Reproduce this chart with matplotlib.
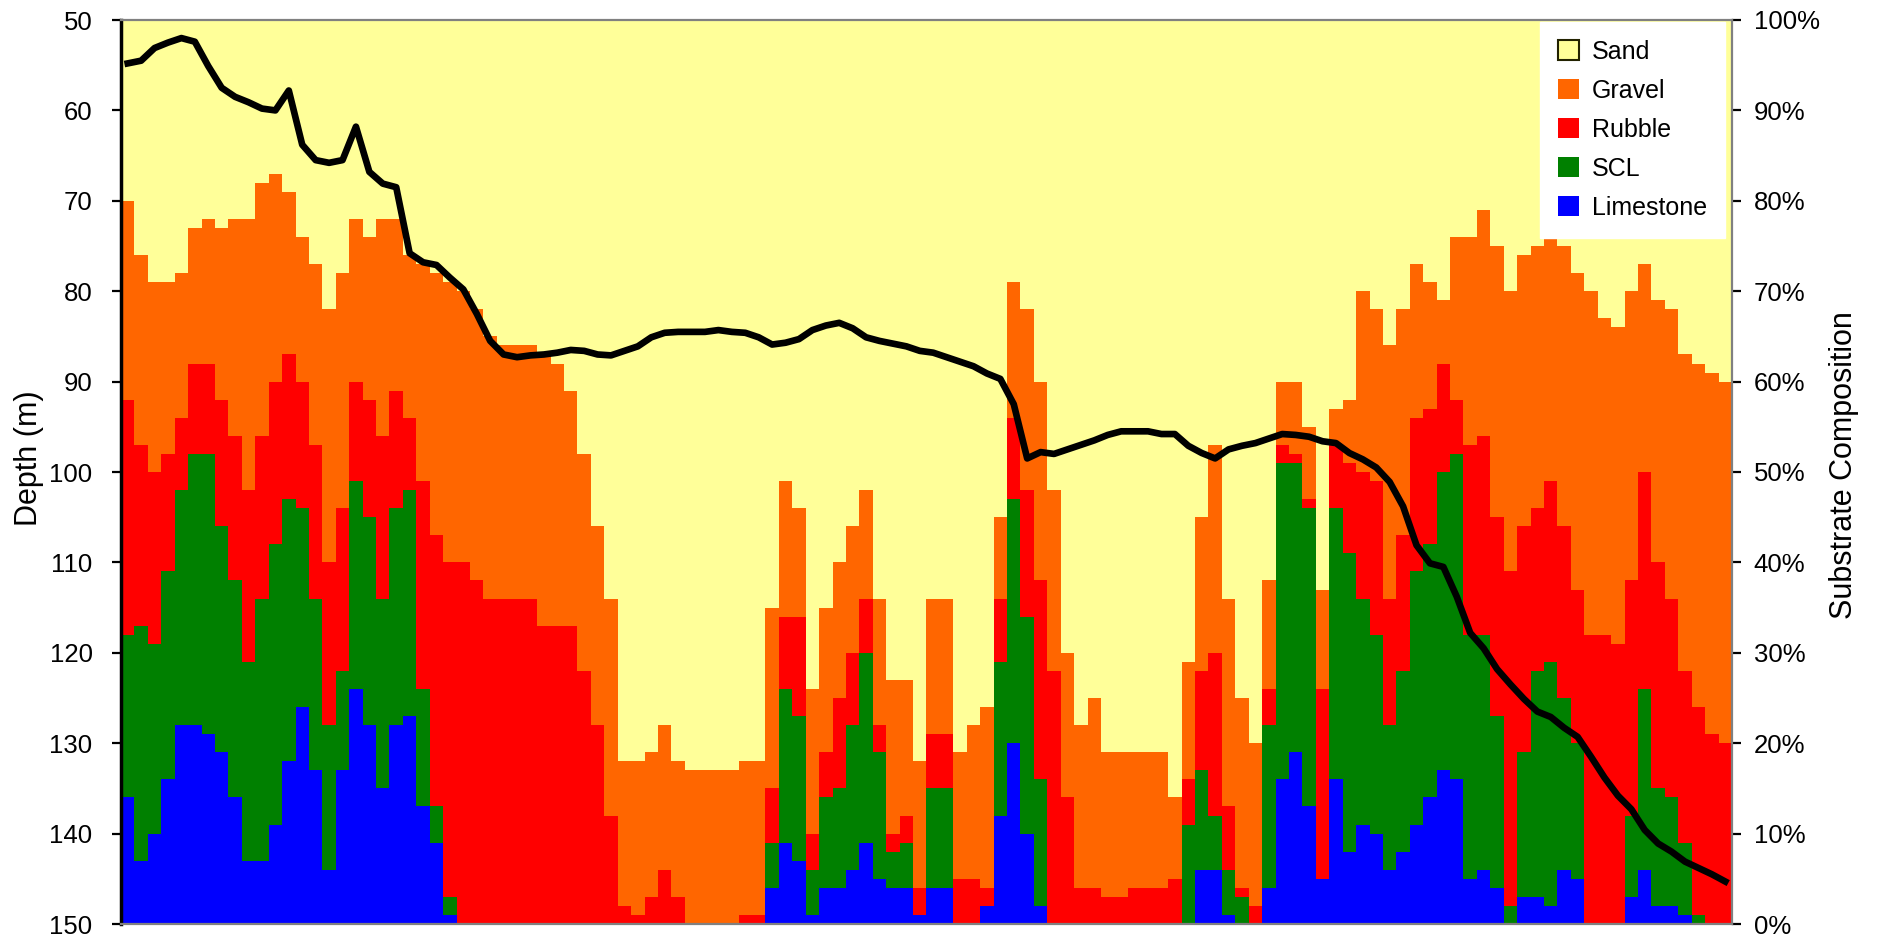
import matplotlib
matplotlib.use("Agg")
import matplotlib.pyplot as plt
import numpy as np
from matplotlib.patches import Patch
from matplotlib.ticker import MultipleLocator, FuncFormatter

# cumulative tops of each layer (% of substrate), one value per bar
limestone_top = [
    14, 7, 10, 16, 22, 22, 21, 19, 14, 7,
    7, 11, 18, 24, 17, 6, 17, 26, 22, 15,
    22, 23, 13, 9, 1, 0, 0, 0, 0, 0,
    0, 0, 0, 0, 0, 0, 0, 0, 0, 0,
    0, 0, 0, 0, 0, 0, 0, 0, 4, 9,
    7, 1, 4, 4, 6, 9, 5, 4, 4, 1,
    4, 4, 0, 0, 2, 12, 20, 10, 2, 0,
    0, 0, 0, 0, 0, 0, 0, 0, 0, 0,
    6, 6, 1, 0, 0, 4, 16, 19, 13, 5,
    16, 8, 11, 10, 6, 8, 11, 14, 17, 16,
    5, 6, 4, 0, 3, 3, 2, 6, 5, 0,
    0, 0, 3, 6, 2, 2, 1, 0, 0, 0,
]
scl_top = [
    32, 33, 31, 39, 48, 52, 52, 44, 38, 29,
    36, 42, 47, 46, 36, 22, 28, 49, 45, 36,
    46, 48, 26, 13, 3, 0, 0, 0, 0, 0,
    0, 0, 0, 0, 0, 0, 0, 0, 0, 0,
    0, 0, 0, 0, 0, 0, 0, 0, 9, 26,
    23, 6, 14, 15, 22, 30, 19, 8, 9, 1,
    15, 15, 0, 0, 2, 29, 47, 34, 16, 0,
    0, 0, 0, 0, 0, 0, 0, 0, 0, 11,
    17, 12, 6, 3, 0, 22, 51, 51, 46, 5,
    46, 41, 36, 32, 22, 28, 39, 42, 50, 52,
    32, 32, 23, 2, 19, 28, 29, 25, 20, 0,
    0, 0, 12, 26, 15, 14, 9, 1, 0, 0,
]
rubble_top = [
    58, 53, 50, 52, 56, 62, 62, 58, 54, 48,
    54, 60, 63, 60, 53, 40, 46, 60, 58, 54,
    59, 56, 49, 43, 40, 40, 38, 36, 36, 36,
    36, 33, 33, 33, 28, 22, 12, 2, 1, 3,
    6, 3, 0, 0, 0, 0, 1, 1, 15, 34,
    34, 10, 19, 25, 30, 36, 22, 10, 12, 4,
    21, 21, 5, 5, 4, 36, 56, 48, 38, 28,
    14, 4, 4, 3, 3, 4, 4, 4, 5, 16,
    28, 30, 13, 4, 2, 26, 53, 52, 47, 26,
    53, 51, 50, 49, 36, 43, 56, 57, 62, 58,
    53, 54, 45, 39, 44, 46, 49, 44, 37, 32,
    32, 31, 38, 50, 40, 36, 28, 24, 21, 20,
]
gravel_top = [
    80, 74, 71, 71, 72, 77, 78, 77, 78, 78,
    82, 83, 81, 76, 73, 68, 72, 78, 76, 78,
    78, 74, 73, 72, 71, 70, 68, 65, 64, 64,
    64, 63, 62, 59, 52, 44, 36, 18, 18, 19,
    22, 18, 17, 17, 17, 17, 18, 18, 35, 49,
    46, 26, 35, 40, 44, 48, 36, 27, 27, 18,
    36, 36, 19, 22, 24, 45, 71, 68, 60, 48,
    30, 22, 25, 19, 19, 19, 19, 19, 14, 29,
    45, 53, 36, 25, 20, 38, 60, 60, 55, 37,
    57, 58, 70, 68, 64, 68, 73, 71, 69, 76,
    76, 79, 75, 70, 74, 75, 76, 75, 72, 70,
    67, 66, 70, 73, 69, 68, 63, 62, 61, 60,
]
# depth along the transect (m)
depth = [
    54.8, 54.5, 53.1, 52.5, 52.0, 52.4, 55.1, 57.5, 58.5, 59.1,
    59.8, 60.0, 57.8, 63.8, 65.5, 65.8, 65.5, 61.8, 66.8, 68.1,
    68.5, 75.8, 76.8, 77.1, 78.5, 79.8, 82.5, 85.5, 87.0, 87.3,
    87.1, 87.0, 86.8, 86.5, 86.6, 87.0, 87.1, 86.6, 86.1, 85.1,
    84.6, 84.5, 84.5, 84.5, 84.3, 84.5, 84.6, 85.1, 85.9, 85.7,
    85.3, 84.3, 83.8, 83.5, 84.1, 85.1, 85.5, 85.8, 86.1, 86.6,
    86.8, 87.3, 87.8, 88.3, 89.1, 89.7, 92.5, 98.5, 97.8, 98.0,
    97.5, 97.0, 96.5, 95.9, 95.5, 95.5, 95.5, 95.8, 95.8, 97.1,
    97.9, 98.5, 97.5, 97.1, 96.8, 96.3, 95.8, 95.9, 96.1, 96.6,
    96.8, 97.9, 98.6, 99.5, 101.1, 103.8, 108.1, 110.1, 110.5, 113.8,
    117.8, 119.5, 121.8, 123.5, 125.1, 126.5, 127.1, 128.3, 129.3, 131.5,
    133.8, 135.8, 137.3, 139.6, 141.1, 142.0, 143.1, 143.8, 144.5, 145.3,
]

names = ["Limestone", "SCL", "Rubble", "Gravel", "Sand"]
colors = ["#0000FF", "#008000", "#FF0000", "#FF6600", "#FFFF99"]

plt.rcParams['font.family'] = ['Liberation Sans', 'DejaVu Sans']

tops = np.array([limestone_top, scl_top, rubble_top, gravel_top,
                 [100] * len(depth)], dtype=float)
shares = np.diff(np.vstack([np.zeros(len(depth)), tops]), axis=0)
x = np.arange(len(depth))

fig = plt.figure(figsize=(18.81, 9.44), dpi=100)
ax = fig.add_axes([121 / 1881, 20 / 944, 1611 / 1881, 904 / 944])
ax2 = ax.twinx()  # depth axis, drawn on top of the bars

bottom = np.zeros(len(depth))
for vals, col in zip(shares, colors):
    ax.bar(x, vals, width=1.0, bottom=bottom, color=col, linewidth=0)
    bottom += vals

ax.set_xlim(-0.5, len(depth) - 0.5)
ax.set_ylim(0, 100)
ax.set_xticks([])
# twinx moved the ticks around, put them back
ax.yaxis.tick_right()
ax2.yaxis.tick_left()
ax.yaxis.set_major_locator(MultipleLocator(10))
ax.yaxis.set_major_formatter(FuncFormatter(lambda v, p: f"{int(v)}%"))
ax.tick_params(axis='y', length=6.5, width=1.6, pad=9, labelsize=18.5)
for s in ax.spines.values():
    s.set_visible(False)

ax2.plot(x, depth, color='black', lw=4.8, solid_joinstyle='round')
ax2.set_ylim(150, 50)
ax2.yaxis.set_major_locator(MultipleLocator(10))
ax2.tick_params(axis='y', length=6.5, width=1.6, pad=14, labelsize=18.5)
for side in ['top', 'right', 'bottom']:
    ax2.spines[side].set_color('#808080')
    ax2.spines[side].set_linewidth(1.6)
ax2.spines['left'].set_color('black')
ax2.spines['left'].set_linewidth(2.5)

fig.text(29 / 1881, 1 - 458 / 944, "Depth (m)", rotation=90,
         ha='center', va='center', fontsize=22)
fig.text(1844 / 1881, 1 - 465 / 944, "Substrate Composition", rotation=90,
         ha='center', va='center', fontsize=22)

handles = []
for name in ["Sand", "Gravel", "Rubble", "SCL", "Limestone"]:
    col = colors[names.index(name)]
    if name == "Sand":
        handles.append(Patch(facecolor=col, edgecolor='#222200', linewidth=1.5, label=name))
    else:
        handles.append(Patch(facecolor=col, edgecolor='none', label=name))
leg = ax2.legend(handles=handles, loc='upper right',
                 bbox_to_anchor=(1725 / 1881, 1 - 22 / 944),
                 bbox_transform=fig.transFigure, borderaxespad=0,
                 fontsize=18, frameon=True, fancybox=False, framealpha=1,
                 facecolor='white', edgecolor='white',
                 handlelength=0.85, handleheight=0.85, handletextpad=0.5,
                 labelspacing=0.6, borderpad=0.72)

fig.savefig("out.png", dpi=100)
